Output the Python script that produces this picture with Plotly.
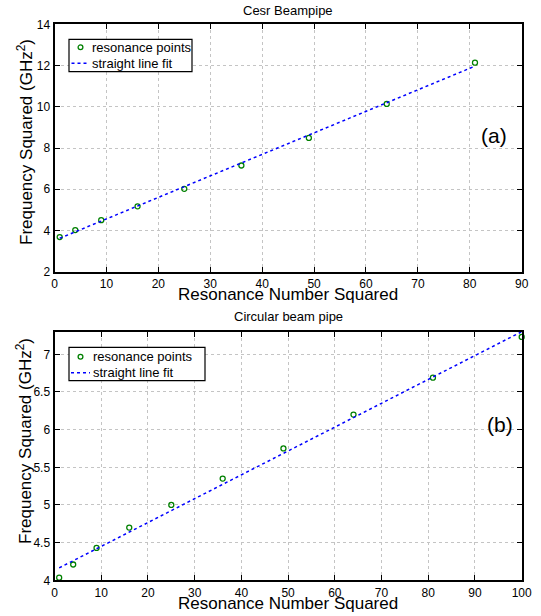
import plotly.graph_objects as go

# Cesr beampipe: resonance number squared vs frequency squared (GHz^2)
cesr_n2 = [1, 4, 9, 16, 25, 36, 49, 64, 81]
cesr_f2 = [3.68, 4.02, 4.50, 5.17, 6.02, 7.15, 8.49, 10.14, 12.14]
cesr_fit_n2 = [1, 81]
cesr_fit_f2 = [3.62, 11.97]

# Circular beam pipe
circ_n2 = [1, 4, 9, 16, 25, 36, 49, 64, 81, 100]
circ_f2 = [4.035, 4.21, 4.43, 4.70, 5.00, 5.35, 5.75, 6.20, 6.69, 7.23]
circ_fit_n2 = [1, 100]
circ_fit_f2 = [4.165, 7.30]

top_xticks = list(range(0, 91, 10))
top_yticks = [2, 4, 6, 8, 10, 12, 14]
bot_xticks = list(range(0, 101, 10))
bot_yticks = [4, 4.5, 5, 5.5, 6, 6.5, 7]
bot_yticklabels = ["4", "4.5", "5", "5.5", "6", "6.5", "7"]

legend_labels = ["resonance points", "straight line fit"]
panel_titles = ["Cesr Beampipe", "Circular beam pipe"]
panel_tags = ["(a)", "(b)"]

W, H = 541, 616
FONT = "Liberation Sans, Arial, Helvetica, sans-serif"
GREEN = "#008000"
BLUE = "#0000ff"


def px_x(p):
    return p / W


def px_y(p):
    return 1 - p / H


xdom = [px_x(54.5), px_x(521.7)]
top_ydom = [px_y(271.7), px_y(24.3)]
bot_ydom = [px_y(580.3), px_y(331.7)]

fig = go.Figure()

marker_style = dict(symbol="circle-open", size=5, color=GREEN, line=dict(width=1.3, color=GREEN))
line_style = dict(color=BLUE, width=1.5, dash="dot")

fig.add_trace(go.Scatter(x=cesr_n2, y=cesr_f2, mode="markers", marker=marker_style,
                         name=legend_labels[0], xaxis="x", yaxis="y", cliponaxis=False))
fig.add_trace(go.Scatter(x=cesr_fit_n2, y=cesr_fit_f2, mode="lines", line=line_style,
                         name=legend_labels[1], xaxis="x", yaxis="y"))
fig.add_trace(go.Scatter(x=circ_n2, y=circ_f2, mode="markers", marker=marker_style,
                         name=legend_labels[0], xaxis="x2", yaxis="y2", cliponaxis=False))
fig.add_trace(go.Scatter(x=circ_fit_n2, y=circ_fit_f2, mode="lines", line=line_style,
                         name=legend_labels[1], xaxis="x2", yaxis="y2"))

axis_common = dict(
    showline=True, linecolor="black", linewidth=2, mirror="ticks",
    ticks="inside", ticklen=5, tickwidth=1, tickcolor="black",
    showgrid=True, gridcolor="#c4c4c4", gridwidth=1, griddash="dot",
    zeroline=False, tickfont=dict(size=12, color="black", family=FONT),
    automargin=False,
)

annotations = []
shapes = []


def text_at(text, x, y, size, angle=0, xanchor="center"):
    annotations.append(dict(text=text, x=px_x(x), y=px_y(y), xref="paper", yref="paper",
                            showarrow=False, xanchor=xanchor, yanchor="middle",
                            textangle=angle,
                            font=dict(size=size, color="black", family=FONT)))


def legend_box(left, top, right, bottom, row1, row2, marker_x, line_x0, line_x1, text_x):
    shapes.append(dict(type="rect", xref="paper", yref="paper",
                       x0=px_x(left), x1=px_x(right), y0=px_y(bottom), y1=px_y(top),
                       line=dict(color="black", width=1.2), fillcolor="white", layer="above"))
    r = 2.4
    shapes.append(dict(type="circle", xref="paper", yref="paper",
                       x0=px_x(marker_x - r), x1=px_x(marker_x + r),
                       y0=px_y(row1 + r), y1=px_y(row1 - r),
                       line=dict(color=GREEN, width=1.3), layer="above"))
    shapes.append(dict(type="line", xref="paper", yref="paper",
                       x0=px_x(line_x0), x1=px_x(line_x1), y0=px_y(row2), y1=px_y(row2),
                       line=dict(color=BLUE, width=1.5, dash="dot"), layer="above"))
    text_at(legend_labels[0], text_x, row1, 13, xanchor="left")
    text_at(legend_labels[1], text_x, row2, 13, xanchor="left")


# panel (a)
text_at(panel_titles[0], 288, 10, 13)
text_at("Resonance Number Squared", 288, 294.3, 17)
text_at("Frequency Squared (GHz<sup>2</sup>)", 25, 142, 17, angle=-90)
text_at(panel_tags[0], 494, 136, 21)
legend_box(69, 39.3, 192, 71.7, 47.3, 63.3, 80.5, 71.5, 89.5, 89.5)

# panel (b)
text_at(panel_titles[1], 288, 316.7, 13)
text_at("Resonance Number Squared", 288, 603, 17)
text_at("Frequency Squared (GHz<sup>2</sup>)", 24, 441, 17, angle=-90)
text_at(panel_tags[1], 500, 424, 21)
legend_box(69, 347.3, 205, 380.7, 356.7, 372.7, 80.5, 71, 90, 90.5)

fig.update_layout(
    width=W, height=H,
    margin=dict(l=0, r=0, t=0, b=0),
    paper_bgcolor="white", plot_bgcolor="white",
    font=dict(family=FONT, color="black"),
    showlegend=False,
    xaxis=dict(axis_common, domain=xdom, range=[0, 90], tickvals=top_xticks, anchor="y"),
    yaxis=dict(axis_common, domain=top_ydom, range=[2, 14], tickvals=top_yticks, anchor="x"),
    xaxis2=dict(axis_common, domain=xdom, range=[0, 100], tickvals=bot_xticks, anchor="y2"),
    yaxis2=dict(axis_common, domain=bot_ydom, range=[4, 7.3], tickvals=bot_yticks,
                ticktext=bot_yticklabels, anchor="x2"),
    annotations=annotations,
    shapes=shapes,
)

fig.write_html("out.html")
